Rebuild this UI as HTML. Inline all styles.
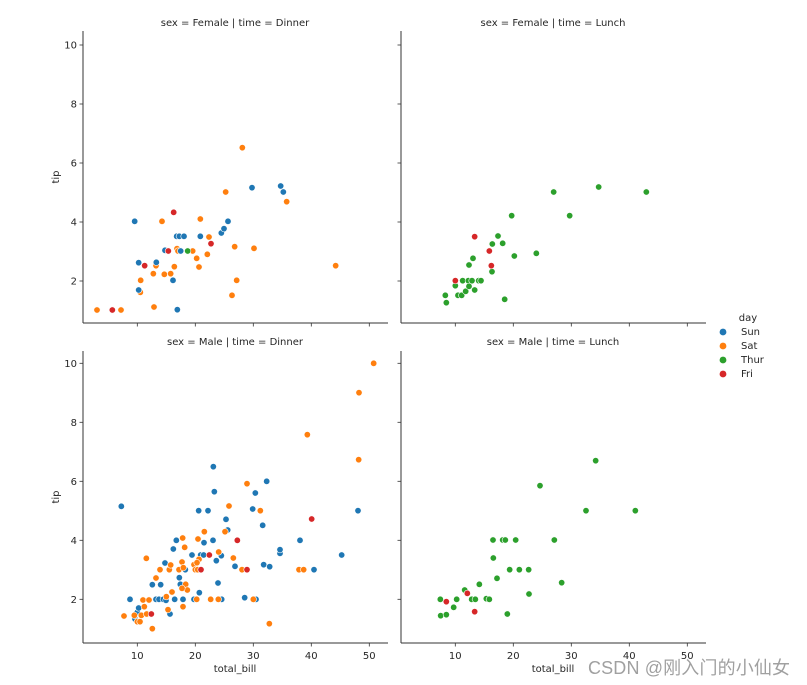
<!DOCTYPE html>
<html><head><meta charset="utf-8"><style>
body{margin:0;background:#fff}
svg{display:block;font-family:"DejaVu Sans","Liberation Sans",sans-serif}
</style></head><body>
<svg id="s" width="807" height="685" viewBox="0 0 807 685" xmlns="http://www.w3.org/2000/svg">
<g font-size="10" fill="#262626">
<text x="235" y="26" text-anchor="middle">sex = Female | time = Dinner</text>
<text x="553" y="26" text-anchor="middle">sex = Female | time = Lunch</text>
<text x="235" y="345" text-anchor="middle">sex = Male | time = Dinner</text>
<text x="553" y="345" text-anchor="middle">sex = Male | time = Lunch</text>
<text x="235" y="672" text-anchor="middle">total_bill</text>
<text x="553" y="672" text-anchor="middle">total_bill</text>
<text transform="translate(59,177) rotate(-90)" text-anchor="middle">tip</text>
<text transform="translate(59,497) rotate(-90)" text-anchor="middle">tip</text>
<text x="748" y="321" text-anchor="middle">day</text>
<text x="741" y="335">Sun</text>
<text x="741" y="349">Sat</text>
<text x="741" y="363">Thur</text>
<text x="741" y="377">Fri</text>
</g>
<circle cx="723" cy="332" r="3.4" fill="#1f77b4"/>
<circle cx="723" cy="346" r="3.4" fill="#ff7f0e"/>
<circle cx="723" cy="360" r="3.4" fill="#2ca02c"/>
<circle cx="723" cy="374" r="3.4" fill="#d62728"/>
<text x="588" y="674" font-size="18" textLength="202" fill="#a0a0a0" font-family="'Liberation Sans','Noto Sans CJK SC',sans-serif">CSDN @刚入门的小仙女</text>
<g id="ax"></g>
<g id="pts" stroke="#fff" stroke-width="0.6"></g>
</svg>
<script>
var NS="http://www.w3.org/2000/svg";
var ax=document.getElementById('ax'),pts=document.getElementById('pts');
function el(t,a,p){var e=document.createElementNS(NS,t);for(var k in a)e.setAttribute(k,a[k]);(p||ax).appendChild(e);return e;}
var panels=[[83,31,388,323,0,45],[401,31,706,323,0,45],[83,351,388,643,1,363.3],[401,351,706,643,1,363.3]];
panels.forEach(function(p,i){
 var col=i%2, x0=p[0],y0=p[1],x1=p[2],y1=p[3];
 el('line',{x1:x0,y1:y0,x2:x0,y2:y1,stroke:'#333','stroke-width':1});
 el('line',{x1:x0,y1:y1,x2:x1,y2:y1,stroke:'#333','stroke-width':1});
 for(var v=10;v<=50;v+=10){var x=137.3+(v-10)*5.8+col*318;
  el('line',{x1:x,y1:y1,x2:x,y2:y1+3.5,stroke:'#333','stroke-width':0.8});
  if(p[4]==1){var t=el('text',{x:x,y:y1+16,'text-anchor':'middle','font-size':10,fill:'#262626'});t.textContent=v;}}
 for(var v=2;v<=10;v+=2){var y=p[5]+(10-v)*29.5;
  el('line',{x1:x0-3.5,y1:y,x2:x0,y2:y,stroke:'#333','stroke-width':0.8});
  if(col==0){var t=el('text',{x:x0-6,y:y+3.5,'text-anchor':'end','font-size':10,fill:'#262626'});t.textContent=v;}}
});
var C={b:'#1f77b4',o:'#ff7f0e',g:'#2ca02c',r:'#d62728'};
function add(ox,oy,c,arr){for(var i=0;i<arr.length;i+=2)el('circle',{cx:ox+arr[i]/3,cy:oy+arr[i+1]/3,r:3.2,fill:C[c]},pts);}
add(40,0,'o',[171,930,243,930,342,921,340,821,348,797,373,823,392,821,403,800,302,841,301,877,366,664,411,746,414,753,458,753,470,775,477,801,481,657,502,763,507,711,557,576,584,740,590,841,576,886,607,443,642,745,740,605,887,797]);
add(40,0,'b',[284,664,296,788,296,870,349,787,399,841,412,929,375,751,410,709,418,709,432,709,422,753,481,709,544,699,552,686,564,664,636,563,722,558,730,576]);
add(40,0,'r',[217,930,314,797,385,753,401,637,513,731]);
add(40,0,'g',[443,753]);
add(400,170,'g',[136,376,139,398,166,347,174,376,185,376,188,332,197,364,205,332,207,349,216,332,224,360,236,332,243,332,207,285,219,265,276,305,277,222,294,198,308,220,314,388,343,258,335,137,409,250,461,66,509,137,596,51,739,66]);
add(400,170,'r',[166,332,224,200,268,243,274,287]);
add(40,340,'b',[244,499,270,778,285,837,292,817,296,804,337,734,348,778,357,778,362,734,370,778,375,669,378,781,390,822,404,778,400,627,409,601,418,713,421,733,429,778,436,689,456,645,462,778,476,512,478,758,482,645,491,645,492,608,504,512,519,601,520,380,523,455,529,662,534,729,544,647,558,538,563,570,585,679,614,773,638,507,646,459,648,778,668,556,671,674,680,424,689,680,720,640,720,629,780,601,822,689,905,645,954,512,545,778]);
add(40,340,'o',[252,828,283,826,292,845,300,845,304,826,309,780,313,800,320,822,319,655,327,780,337,866,348,714,360,689,379,770,384,809,388,689,392,675,396,756,417,689,426,666,430,683,429,800,428,594,434,622,437,733,442,750,426,745,462,674,466,689,470,778,473,689,474,597,477,658,471,668,493,575,512,778,535,778,536,636,555,575,567,498,580,654,606,689,621,431,640,778,661,512,777,689,791,689,802,284,956,359,957,158,1001,70,688,851]);
add(40,340,'r',[334,822,483,689,508,645,592,601,621,689,815,537]);
add(390,300,'g',[151,898,152,947,169,944,191,922,200,898,224,870,245,898,256,898,268,853,289,896,298,898,309,720,310,774,321,835,338,720,346,720,352,942,359,809,377,720,388,809,416,809,417,882,450,557,493,720,515,848,588,632,617,482,736,632]);
add(390,300,'r',[169,905,232,880,254,935]);
</script>
</body></html>
